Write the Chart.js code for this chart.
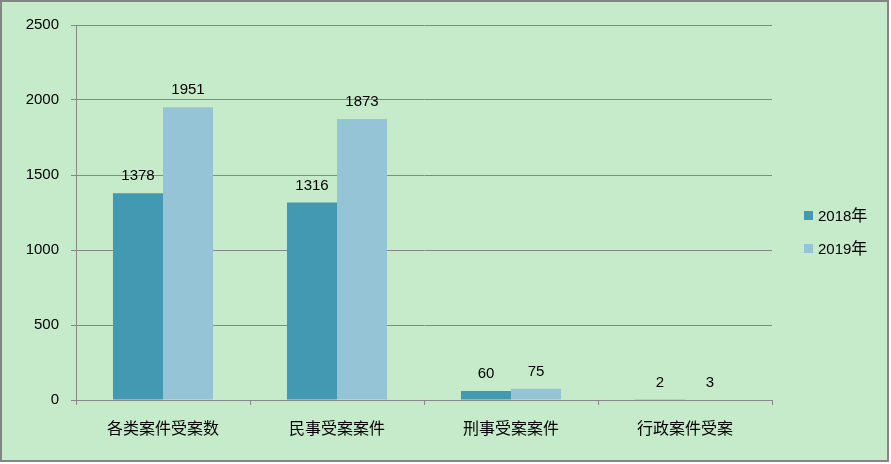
<!DOCTYPE html>
<html>
<head>
<meta charset="utf-8">
<script src="https://cdn.jsdelivr.net/npm/chart.js@4/dist/chart.umd.min.js"></script>
<style>
    html, body { margin: 0; padding: 0; background: #fff; }
    canvas { display: block; }
</style>
</head>
<body>
<canvas id="caseChart" width="891" height="464"></canvas>
<script>
const categories = ['各类案件受案数', '民事受案案件', '刑事受案案件', '行政案件受案'];
const seriesNames = ['2018年', '2019年'];
const values2018 = [1378, 1316, 60, 2];
const values2019 = [1951, 1873, 75, 3];
const yMax = 2500;
const yStep = 500;

const colors = ['#4398b2', '#94c4d6'];
const numFont = '15px "Liberation Sans", "Noto Sans CJK SC", sans-serif';

// background + outer frame
const framePlugin = {
    id: 'frame',
    beforeDraw(chart) {
        const c = chart.ctx;
        c.save();
        c.fillStyle = '#c6ebcb';
        c.fillRect(0, 0, 889, 462);
        c.restore();
    },
    afterDraw(chart) {
        const c = chart.ctx;
        c.save();
        c.strokeStyle = '#858585';
        c.lineWidth = 2;
        c.strokeRect(1, 1, 887, 460);
        c.restore();
    }
};

// value labels above each bar
const valueLabels = {
    id: 'valueLabels',
    afterDatasetsDraw(chart) {
        const c = chart.ctx;
        c.save();
        c.font = numFont;
        c.fillStyle = '#000';
        c.textAlign = 'center';
        c.textBaseline = 'alphabetic';
        chart.data.datasets.forEach((ds, i) => {
            chart.getDatasetMeta(i).data.forEach((bar, j) => {
                c.fillText(String(ds.data[j]), bar.x, bar.y - 13);
            });
        });
        c.restore();
    }
};

// legend on the right
const sideLegend = {
    id: 'sideLegend',
    afterDraw(chart) {
        const c = chart.ctx;
        c.save();
        c.textAlign = 'left';
        c.textBaseline = 'alphabetic';
        chart.data.datasets.forEach((ds, i) => {
            const y = 215 + i * 33;
            c.fillStyle = ds.backgroundColor;
            c.fillRect(804, y - 4, 9, 9);
            c.fillStyle = '#000';
            const year = ds.label.slice(0, 4);
            c.font = numFont;
            c.fillText(year, 818, y + 6);
            const w = c.measureText(year).width;
            c.font = '16px "Noto Sans CJK SC", sans-serif';
            c.fillText(ds.label.slice(4), 818 + w, y + 6);
        });
        c.restore();
    }
};

new Chart(document.getElementById('caseChart'), {
    type: 'bar',
    data: {
        labels: categories,
        datasets: [
            {
                label: seriesNames[0],
                data: values2018,
                backgroundColor: colors[0],
                barPercentage: 1,
                categoryPercentage: 0.575
            },
            {
                label: seriesNames[1],
                data: values2019,
                backgroundColor: colors[1],
                barPercentage: 1,
                categoryPercentage: 0.575
            }
        ]
    },
    options: {
        responsive: false,
        animation: false,
        layout: {
            padding: { top: 25, right: 119, bottom: 0, left: 0 }
        },
        plugins: {
            legend: { display: false },
            tooltip: { enabled: false }
        },
        scales: {
            x: {
                afterFit: (scale) => { scale.height = 64; },
                grid: {
                    drawOnChartArea: false,
                    drawTicks: true,
                    tickLength: 5,
                    color: '#878787',
                    offset: true
                },
                border: { display: true, color: '#878787' },
                ticks: {
                    color: '#000',
                    padding: 13,
                    font: { family: '"Noto Sans CJK SC", sans-serif', size: 16 }
                }
            },
            y: {
                min: 0,
                max: yMax,
                afterFit: (scale) => { scale.width = 76; },
                grid: {
                    color: '#878787',
                    tickLength: 5
                },
                border: { display: true, color: '#878787' },
                ticks: {
                    stepSize: yStep,
                    color: '#000',
                    padding: 12,
                    callback: (v) => String(v),
                    font: { family: '"Liberation Sans", sans-serif', size: 15 }
                }
            }
        }
    },
    plugins: [framePlugin, valueLabels, sideLegend]
});
</script>
</body>
</html>
